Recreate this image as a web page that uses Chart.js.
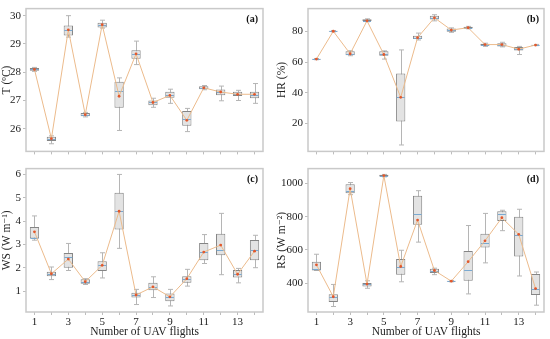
<!DOCTYPE html>
<html>
<head>
<meta charset="utf-8">
<script src="https://cdn.jsdelivr.net/npm/chart.js@4.4.1/dist/chart.umd.min.js"></script>
<style>
  body { margin: 0; background: #fff; }
  #wrap { position: relative; width: 550px; height: 339px; }
  canvas { position: absolute; }
</style>
</head>
<body>
<div id="wrap">
  <canvas id="chart-a" width="275" height="160" style="left:0;top:0"></canvas>
  <canvas id="chart-b" width="275" height="160" style="left:275px;top:0"></canvas>
  <canvas id="chart-c" width="275" height="179" style="left:0;top:160px"></canvas>
  <canvas id="chart-d" width="275" height="179" style="left:275px;top:160px"></canvas>
</div>
<script>
const flights = ['1', '2', '3', '4', '5', '6', '7', '8', '9', '10', '11', '12', '13', '14'];

// (a) temperature
const tMin  = [28.03, 25.47, 29.24, 26.42, 29.56, 25.94, 28.27, 26.76, 26.90, 25.90, 27.38, 26.99, 27.00, 26.90];
const tQ1   = [28.05, 25.57, 29.30, 26.44, 29.58, 26.74, 28.48, 26.83, 27.10, 26.11, 27.40, 27.19, 27.16, 27.08];
const tMed  = [28.10, 25.65, 29.50, 26.50, 29.68, 27.35, 28.65, 26.93, 27.20, 26.35, 27.45, 27.30, 27.22, 27.20];
const tQ3   = [28.15, 25.72, 29.65, 26.56, 29.75, 27.66, 28.78, 27.00, 27.31, 26.63, 27.50, 27.39, 27.31, 27.31];
const tMax  = [28.17, 25.75, 30.00, 26.58, 29.84, 27.80, 29.10, 27.08, 27.40, 26.72, 27.53, 27.51, 27.36, 27.60];
const tMean = [28.10, 25.65, 29.50, 26.50, 29.68, 27.15, 28.65, 26.93, 27.18, 26.30, 27.45, 27.30, 27.22, 27.22];

// (b) relative humidity
const hMin  = [61.6, 79.8, 64.2, 86.4, 62.0, 5.9, 74.5, 87.0, 79.5, 81.8, 70.3, 70.0, 65.0, 70.8];
const hQ1   = [61.8, 80.0, 64.6, 86.9, 64.2, 21.3, 75.2, 87.8, 79.8, 82.0, 70.7, 70.3, 67.6, 71.0];
const hMed  = [62.0, 80.3, 65.5, 87.2, 65.5, 37.0, 76.0, 89.0, 81.0, 82.5, 71.4, 71.5, 68.5, 71.2];
const hQ3   = [62.2, 80.5, 67.2, 88.0, 67.2, 52.6, 77.3, 90.3, 82.0, 83.2, 72.0, 72.4, 69.9, 71.4];
const hMax  = [62.4, 80.7, 67.5, 88.3, 67.4, 68.0, 79.0, 91.0, 82.4, 83.4, 72.4, 73.0, 70.3, 71.6];
const hMean = [62.0, 80.2, 65.5, 87.0, 65.0, 37.0, 76.0, 89.0, 81.0, 82.5, 71.5, 71.5, 68.5, 71.2];

// (c) wind speed
const wMin  = [3.18, 1.49, 1.88, 1.28, 1.56, 2.83, 0.42, 0.72, 0.36, 1.21, 2.18, 1.70, 1.35, 2.00];
const wQ1   = [3.25, 1.63, 2.00, 1.31, 1.86, 3.64, 0.72, 1.03, 0.56, 1.35, 2.32, 2.53, 1.58, 2.32];
const wMed  = [3.28, 1.72, 2.45, 1.40, 2.10, 4.45, 0.82, 1.18, 0.74, 1.52, 2.68, 2.76, 1.72, 2.74];
const wQ3   = [3.75, 1.83, 2.63, 1.50, 2.28, 5.21, 0.93, 1.35, 0.89, 1.63, 3.06, 3.46, 1.90, 3.19];
const wMax  = [4.22, 2.03, 3.04, 1.53, 2.64, 6.00, 1.07, 1.61, 1.07, 1.93, 3.42, 4.33, 1.97, 3.39];
const wMean = [3.54, 1.74, 2.37, 1.40, 2.10, 4.42, 0.83, 1.18, 0.75, 1.53, 2.67, 2.97, 1.72, 2.71];

// (d) solar radiation
const rMin  = [476, 259, 933, 369, 1040, 408, 647, 451, 408, 335, 522, 716, 443, 267];
const rQ1   = [476, 286, 941, 380, 1043, 451, 751, 461, 410, 414, 614, 775, 561, 329];
const rMed  = [486, 318, 953, 394, 1048, 500, 816, 476, 412, 482, 641, 818, 692, 367];
const rQ3   = [529, 333, 996, 400, 1053, 545, 927, 486, 414, 594, 698, 833, 800, 455];
const rMax  = [574, 392, 1006, 414, 1055, 598, 957, 490, 416, 747, 820, 839, 845, 467];
const rMean = [510, 318, 969, 394, 1048, 500, 780, 476, 412, 529, 655, 794, 694, 367];

const serif = "'Liberation Serif', 'DejaVu Serif', serif";

const boxPlugin = {
    id: 'boxes',
    beforeDatasetsDraw(chart, args, opts) {
        const ctx = chart.ctx, x = chart.scales.x, y = chart.scales.y;
        ctx.save();
        ctx.strokeStyle = '#b5b5b5';
        ctx.lineWidth = 1;
        opts.min.forEach((lo, i) => {
            const px = Math.round(x.getPixelForValue(i)) + 0.5;
            const yLo = y.getPixelForValue(lo), yHi = y.getPixelForValue(opts.max[i]);
            ctx.beginPath();
            ctx.moveTo(px, yLo); ctx.lineTo(px, yHi);
            ctx.moveTo(px - 2.5, yLo); ctx.lineTo(px + 2.5, yLo);
            ctx.moveTo(px - 2.5, yHi); ctx.lineTo(px + 2.5, yHi);
            ctx.stroke();
        });
        ctx.restore();
    },
    afterDatasetDraw(chart, args, opts) {
        if (args.index !== 0) return;
        const ctx = chart.ctx, x = chart.scales.x, y = chart.scales.y;
        ctx.save();
        ctx.strokeStyle = '#7aa9d0';
        ctx.lineWidth = 1;
        opts.med.forEach((m, i) => {
            const px = x.getPixelForValue(i);
            const py = Math.round(y.getPixelForValue(m)) + 0.5;
            ctx.beginPath();
            ctx.moveTo(px - 4, py); ctx.lineTo(px + 4, py);
            ctx.stroke();
        });
        ctx.restore();
    },
    afterDraw(chart, args, opts) {
        const ctx = chart.ctx, a = chart.chartArea;
        ctx.save();
        ctx.strokeStyle = '#c9c9c9';
        ctx.lineWidth = 1.5;
        ctx.strokeRect(a.left, a.top, a.right - a.left, a.bottom - a.top);
        ctx.fillStyle = '#111';
        ctx.font = 'bold 10px ' + serif;
        ctx.textAlign = 'right';
        ctx.textBaseline = 'middle';
        ctx.fillText(opts.label, a.right - 5, a.top + 11);
        ctx.restore();
    }
};

function makePanel(id, cfg) {
    const bottom = cfg.bottom;
    new Chart(document.getElementById(id).getContext('2d'), {
        type: 'bar',
        data: {
            labels: flights,
            datasets: [
                {
                    type: 'bar',
                    data: cfg.q1.map((v, i) => [v, cfg.q3[i]]),
                    backgroundColor: '#e3e3e3',
                    borderColor: '#858585',
                    borderWidth: 1,
                    borderSkipped: false,
                    barPercentage: 0.55,
                    categoryPercentage: 1,
                    order: 2
                },
                {
                    type: 'line',
                    data: cfg.mean,
                    borderColor: '#ecbb8c',
                    borderWidth: 1,
                    pointRadius: 1.4,
                    pointBackgroundColor: '#e2582c',
                    pointBorderWidth: 0,
                    tension: 0,
                    order: 1
                }
            ]
        },
        options: {
            responsive: false,
            animation: false,
            events: [],
            layout: { padding: { top: 4, right: cfg.right, left: 0, bottom: 0 } },
            plugins: {
                legend: { display: false },
                tooltip: { enabled: false },
                boxes: { min: cfg.min, med: cfg.med, max: cfg.max, label: cfg.label }
            },
            scales: {
                x: {
                    type: 'category',
                    offset: true,
                    border: { display: false },
                    grid: { display: true, drawOnChartArea: false, tickLength: 3, color: '#bdbdbd', offset: false },
                    ticks: {
                        display: bottom,
                        autoSkip: false,
                        maxRotation: 0,
                        padding: 1,
                        color: '#222',
                        font: { family: serif, size: 11 },
                        callback: (v, i) => (i % 2 === 0 ? flights[i] : '')
                    },
                    title: {
                        display: bottom,
                        text: 'Number of UAV flights',
                        color: '#222',
                        font: { family: serif, size: 11.5 },
                        padding: { top: 0, bottom: 0 }
                    },
                    afterFit: (s) => { s.height = bottom ? 27 : 8; }
                },
                y: {
                    min: cfg.yMin,
                    max: cfg.yMax,
                    border: { display: false },
                    grid: { display: true, drawOnChartArea: false, tickLength: 3, color: '#bdbdbd' },
                    ticks: {
                        stepSize: cfg.step,
                        includeBounds: false,
                        padding: 2,
                        color: '#222',
                        font: { family: serif, size: 11 },
                        callback: (v) => String(v)
                    },
                    title: {
                        display: true,
                        text: cfg.title,
                        color: '#222',
                        font: { family: serif, size: 11.5 },
                        padding: { top: 0, bottom: 1 }
                    },
                    afterFit: (s) => { s.width = cfg.yWidth; }
                }
            }
        },
        plugins: [boxPlugin]
    });
}

makePanel('chart-a', {
    min: tMin, q1: tQ1, med: tMed, q3: tQ3, max: tMax, mean: tMean,
    yMin: 25.2, yMax: 30.25, step: 1, title: 'T (ºC)', label: '(a)',
    yWidth: 26, right: 12, bottom: false
});
makePanel('chart-b', {
    min: hMin, q1: hQ1, med: hMed, q3: hQ3, max: hMax, mean: hMean,
    yMin: 1.7, yMax: 95, step: 20, title: 'HR (%)', label: '(b)',
    yWidth: 33, right: 6, bottom: false
});
makePanel('chart-c', {
    min: wMin, q1: wQ1, med: wMed, q3: wQ3, max: wMax, mean: wMean,
    yMin: 0.1, yMax: 6.25, step: 1, title: 'WS (W m\u207B\u00B9)', label: '(c)',
    yWidth: 26, right: 12, bottom: true
});
makePanel('chart-d', {
    min: rMin, q1: rQ1, med: rMed, q3: rQ3, max: rMax, mean: rMean,
    yMin: 226, yMax: 1090, step: 200, title: 'RS (W m\u207B\u00B2)', label: '(d)',
    yWidth: 33, right: 6, bottom: true
});
</script>
</body>
</html>
